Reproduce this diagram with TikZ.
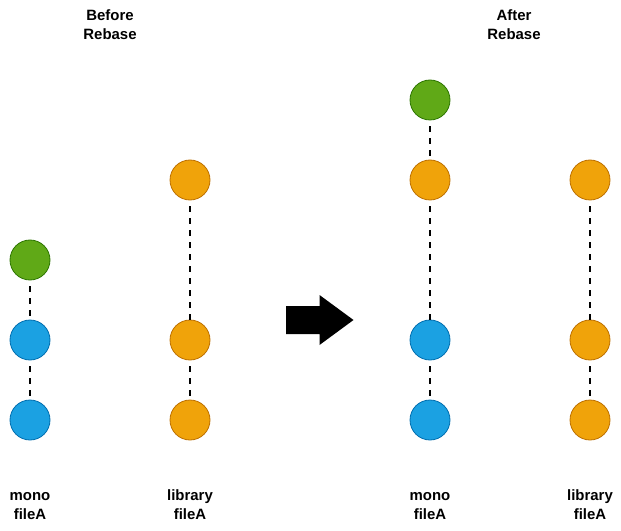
\documentclass[tikz,border=0pt]{standalone}
\usepackage{fontspec}
\setmainfont{Liberation Sans}
\definecolor{gfill}{HTML}{60A917}\definecolor{gline}{HTML}{2D7600}
\definecolor{bfill}{HTML}{1BA1E2}\definecolor{bline}{HTML}{006EAF}
\definecolor{ofill}{HTML}{F0A30A}\definecolor{oline}{HTML}{BD7000}
\begin{document}
\begin{tikzpicture}[x=1bp,y=-1bp,
  commit/.style={circle,minimum size=40bp,inner sep=0pt,line width=0.8bp},
  gc/.style={commit,fill=gfill,draw=gline},
  bc/.style={commit,fill=bfill,draw=bline},
  oc/.style={commit,fill=ofill,draw=oline},
  link/.style={draw=black,line width=2bp,dash pattern=on 6bp off 6bp,dash phase=6bp},
  lbl/.style={font=\fontsize{15}{20}\selectfont\bfseries,align=center,inner sep=0pt}]
\useasboundingbox (0,0) rectangle (621,531);
% before
\node[gc] (g1) at (30,260) {};
\node[bc] (b1) at (30,340) {};
\node[bc] (b2) at (30,420) {};
\node[oc] (o1) at (190,180) {};
\node[oc] (o2) at (190,340) {};
\node[oc] (o3) at (190,420) {};
\draw[link] (g1) -- (b1); \draw[link] (b1) -- (b2);
\draw[link] (o1) -- (o2); \draw[link] (o2) -- (o3);
% after
\node[gc] (g2) at (430,100) {};
\node[oc] (m1) at (430,180) {};
\node[bc] (b3) at (430,340) {};
\node[bc] (b4) at (430,420) {};
\node[oc] (o4) at (590,180) {};
\node[oc] (o5) at (590,340) {};
\node[oc] (o6) at (590,420) {};
\draw[link] (g2) -- (m1); \draw[link] (m1) -- (b3); \draw[link] (b3) -- (b4);
\draw[link] (o4) -- (o5); \draw[link] (o5) -- (o6);
% arrow
\fill[black] (286,306) -- (319.5,306) -- (319.5,295) -- (353.5,320) -- (319.5,345) -- (319.5,334) -- (286,334) -- cycle;
% labels
\node[lbl] (t1) at (110,26) {\strut Before\\\strut Rebase};
\node[lbl] (t2) at (514,26) {\strut After\\\strut Rebase};
\node[lbl] (l1) at (30,506) {\strut mono\\\strut fileA};
\node[lbl] (l2) at (190,506) {\strut library\\\strut fileA};
\node[lbl] (l3) at (430,506) {\strut mono\\\strut fileA};
\node[lbl] (l4) at (590,506) {\strut library\\\strut fileA};
\end{tikzpicture}
\end{document}
